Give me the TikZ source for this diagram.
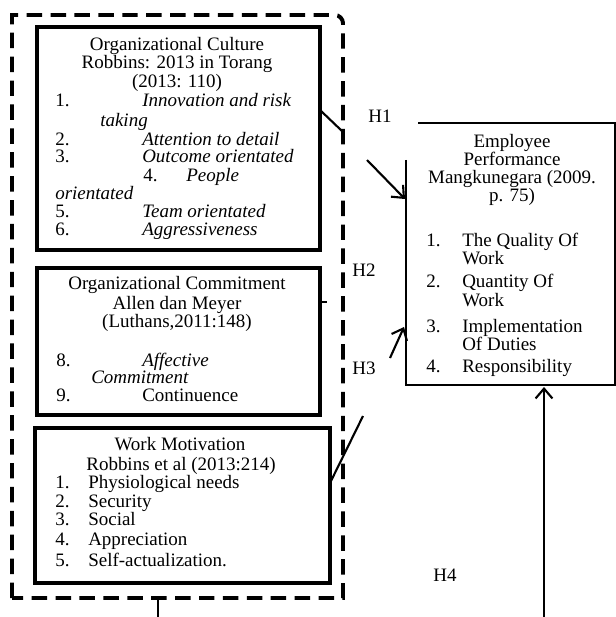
\documentclass[tikz,border=0pt]{standalone}
\usepackage{fontspec}
\setmainfont{Liberation Serif}
\usetikzlibrary{arrows.meta}

\begin{document}
\begin{tikzpicture}[x=0.025cm, y=-0.025cm, font=\fontsize{13.5pt}{13.5pt}\selectfont,
  >={Straight Barb[length=7pt,width=12pt]},
  khung/.style={line width=2.5pt},
  ngat/.style={line width=2.8pt, dash pattern=on 11pt off 6pt},
  noi/.style={line width=1.5pt},
  chu/.style={inner sep=0pt, text height=9.5pt, text depth=3pt},
  trai/.style={chu, anchor=west}]

\useasboundingbox (0,0) rectangle (616,617);
\clip (0,0) rectangle (616,617);

% Khung ngoài (nét đứt), chỉ bo góc trên phải
\draw[ngat] (12,598) -- (12,15) -- (330,15) [rounded corners=6pt] -- (343,15) -- (343,30)
  [sharp corners] -- (343,598) -- cycle;

% Các khung biến độc lập
\coordinate (OC1) at (37,27);   \coordinate (OC2) at (320,250);
\coordinate (CM1) at (37,268);  \coordinate (CM2) at (320,415);
\coordinate (WM1) at (35,428);  \coordinate (WM2) at (330,583);
\draw[khung] (OC1) rectangle (OC2);
\draw[khung] (CM1) rectangle (CM2);
\draw[khung] (WM1) rectangle (WM2);

% Khung Employee Performance (hở góc trên trái)
\coordinate (EP1) at (406,160);
\coordinate (EP2) at (615,385);
\coordinate (EP3) at (418,123);
\draw[line width=2.1pt] (EP1) -- (EP1 |- EP2) -- (EP2) -- (EP2 |- EP3) -- (EP3);

% Organizational Culture
\node[chu] (oct1) at (177,46) {Organizational Culture};
\node[chu] (oct2) at (177,64) {Robbins: 2013 in Torang};
\node[chu] (oct3) at (177,83) {(2013: 110)};
\node[trai] (ocn1) at (55,102) {1.};
\node[trai] (oci1) at (142,102) {\itshape Innovation and risk};
\node[trai] (oci1b) at (100,122) {\itshape taking};
\node[trai] (ocn2) at (55,141) {2.};
\node[trai] (oci2) at (142,141) {\itshape Attention to detail};
\node[trai] (ocn3) at (55,158) {3.};
\node[trai] (oci3) at (142,158) {\itshape Outcome orientated};
\node[trai] (ocn4) at (143,177) {4.};
\node[trai] (oci4) at (186,177) {\itshape People};
\node[trai] (oci4b) at (55,195) {\itshape orientated};
\node[trai] (ocn5) at (55,213) {5.};
\node[trai] (oci5) at (142,213) {\itshape Team orientated};
\node[trai] (ocn6) at (55,231) {6.};
\node[trai] (oci6) at (142,231) {\itshape Aggressiveness};

% Organizational Commitment
\node[chu] (cmt1) at (177,285) {Organizational Commitment};
\node[chu] (cmt2) at (177,305) {Allen dan Meyer};
\node[chu] (cmt3) at (177,323) {(Luthans,2011:148)};
\node[trai] (cmn8) at (56,362) {8.};
\node[trai] (cmi8) at (142,362) {\itshape Affective};
\node[trai] (cmi8b) at (91,379) {\itshape Commitment};
\node[trai] (cmn9) at (56,397) {9.};
\node[trai] (cmi9) at (142,397) {Continuence};

% Work Motivation
\node[chu] (wmt1) at (180,446) {Work Motivation};
\node[chu] (wmt2) at (181,466) {Robbins et al (2013:214)};
\foreach \i/\t/\y in {1/Physiological needs/484, 2/Security/503, 3/Social/521,
                      4/Appreciation/541, 5/Self-actualization./562}{
  \node[trai] (wmn\i) at (55,\y) {\i.};
  \node[trai] (wmi\i) at (88,\y) {\t};
}

% Employee Performance
\node[chu] (ept1) at (512,143) {Employee};
\node[chu] (ept2) at (512,161) {Performance};
\node[chu] (ept3) at (512,179) {Mangkunegara (2009.};
\node[chu] (ept4) at (512,197) {p. 75)};
\node[trai] (epn1) at (426,242) {1.};
\node[trai] (epi1) at (462,242) {The Quality Of};
\node[trai] (epi1b) at (462,260) {Work};
\node[trai] (epn2) at (426,283) {2.};
\node[trai] (epi2) at (462,283) {Quantity Of};
\node[trai] (epi2b) at (462,302) {Work};
\node[trai] (epn3) at (426,328) {3.};
\node[trai] (epi3) at (462,328) {Implementation};
\node[trai] (epi3b) at (462,346) {Of Duties};
\node[trai] (epn4) at (426,368) {4.};
\node[trai] (epi4) at (462,368) {Responsibility};

% Nhãn giả thuyết
\node[chu] (H1) at (380,118) {H1};
\node[chu] (H2) at (364,272) {H2};
\node[chu] (H3) at (364,370) {H3};
\node[chu] (H4) at (445,577) {H4};

% Đường nối H1
\coordinate (h1a) at (320,110);
\coordinate (h1b) at (343,132);
\coordinate (h1c) at (367,160);
\coordinate (h1d) at (405,199);
\draw[noi] (h1a) -- (h1b);
\draw[noi,->] (h1c) -- (h1d);

% Đường nối H2 (chỉ một đoạn ngắn)
\coordinate (h2a) at (320,302);
\coordinate (h2b) at (327,302);
\draw[noi] (h2a) -- (h2b);

% Đường nối H3
\coordinate (h3a) at (330,483);
\coordinate (h3b) at (363,416);
\coordinate (h3c) at (390,358);
\coordinate (h3d) at (404,327);
\draw[noi] (h3a) -- (h3b);
\draw[noi,->] (h3c) -- (h3d);

% Đường nối H4 (đi vòng dưới đáy hình)
\coordinate (h4a) at (158,598);
\coordinate (h4b) at (544,387);
\coordinate (day) at (350,640);
\draw[noi,->] (h4a) -- (h4a |- day) -- (h4b |- day) -- (h4b);

\end{tikzpicture}
\end{document}
